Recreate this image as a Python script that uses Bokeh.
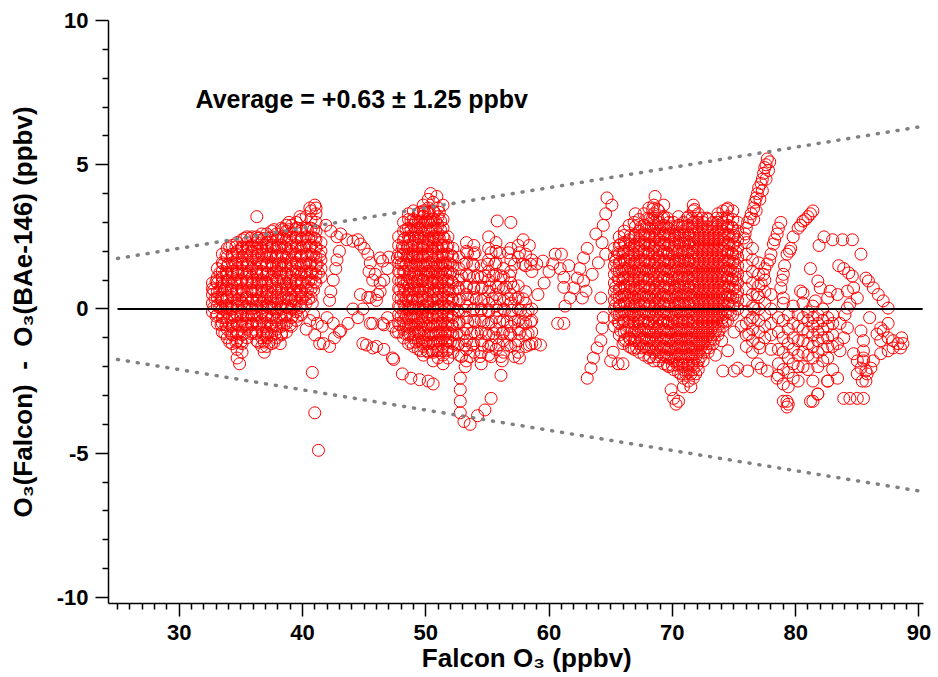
from bokeh.plotting import figure
from bokeh.models import FixedTicker, Label, Range1d, ColumnDataSource
from bokeh.embed import file_html
from bokeh.resources import INLINE

# ---------------- data ----------------
# dense cluster near 33-42 ppbv: column positions and the differences found in each column
a_cols = [32.7, 33.1, 33.5, 33.9, 34.3, 34.7, 35.1, 35.5, 35.9, 36.3, 36.7, 37.1,
          37.5, 37.9, 38.3, 38.7, 39.1, 39.5, 39.9, 40.3, 40.7, 41.1, 41.5]
a_vals = [
    [-0.1, 0.2, 0.5, 0.7, 0.9],
    [-0.5, -0.2, 0.1, 0.4, 0.6, 0.9, 1.1, 1.4],
    [-0.8, -0.5, -0.3, 0.0, 0.3, 0.5, 0.8, 1.1, 1.3, 1.6, 1.9],
    [-1.0, -0.7, -0.4, -0.1, 0.1, 0.4, 0.7, 1.0, 1.2, 1.5, 1.8, 2.1],
    [-1.2, -0.9, -0.6, -0.3, 0.0, 0.2, 0.5, 0.8, 1.1, 1.3, 1.6, 1.9, 2.2],
    [-1.7, -1.4, -1.1, -0.8, -0.5, -0.2, 0.1, 0.3, 0.6, 0.9, 1.2, 1.4, 1.7, 2.0, 2.3],
    [-1.5, -1.2, -0.9, -0.6, -0.4, -0.1, 0.2, 0.5, 0.7, 1.0, 1.3, 1.6, 1.8, 2.1, 2.4],
    [-1.0, -0.7, -0.5, -0.2, 0.1, 0.4, 0.6, 0.9, 1.2, 1.5, 1.7, 2.0, 2.3, 2.5],
    [-0.8, -0.5, -0.2, 0.0, 0.3, 0.6, 0.9, 1.1, 1.4, 1.7, 2.0, 2.2, 2.5],
    [-1.1, -0.8, -0.5, -0.2, 0.1, 0.3, 0.6, 0.9, 1.2, 1.4, 1.7, 2.0, 2.3, 2.5, 3.2],
    [-1.3, -1.0, -0.7, -0.4, -0.1, 0.2, 0.5, 0.8, 1.0, 1.3, 1.6, 1.9, 2.1, 2.4, 2.6],
    [-1.3, -1.0, -0.8, -0.5, -0.2, 0.1, 0.4, 0.6, 0.9, 1.2, 1.5, 1.8, 2.0, 2.3, 2.6],
    [-1.2, -0.9, -0.6, -0.3, 0.0, 0.2, 0.5, 0.8, 1.1, 1.4, 1.6, 1.9, 2.2, 2.5, 2.7],
    [-1.0, -0.7, -0.4, -0.1, 0.2, 0.4, 0.7, 1.0, 1.3, 1.5, 1.8, 2.1, 2.4, 2.6],
    [-0.9, -0.6, -0.3, 0.0, 0.2, 0.5, 0.8, 1.1, 1.4, 1.6, 1.9, 2.2, 2.5, 2.8],
    [-0.8, -0.5, -0.2, 0.1, 0.4, 0.7, 0.9, 1.2, 1.5, 1.8, 2.1, 2.4, 2.7, 2.9],
    [-0.6, -0.3, 0.0, 0.3, 0.5, 0.8, 1.1, 1.4, 1.7, 2.0, 2.3, 2.6, 2.9],
    [-0.4, -0.1, 0.2, 0.5, 0.8, 1.0, 1.3, 1.6, 1.9, 2.2, 2.5, 2.8, 3.0],
    [-0.2, 0.1, 0.4, 0.6, 0.9, 1.2, 1.5, 1.8, 2.1, 2.4, 2.7, 3.1],
    [0.2, 0.5, 0.8, 1.1, 1.3, 1.6, 1.9, 2.2, 2.5, 2.8, 3.2],
    [0.4, 0.7, 1.0, 1.3, 1.6, 1.9, 2.2, 2.5, 2.8, 3.1, 3.4],
    [0.9, 1.2, 1.5, 1.8, 2.1, 2.4, 2.7, 3.0, 3.3, 3.5],
    [1.1, 1.4, 1.7, 2.0, 2.3],
]
# the same cluster read along rows: row levels and the Falcon values found along each row
a_rows = [-1.15, -0.85, -0.55, -0.25, 0.05, 0.35, 0.65, 0.95, 1.25, 1.55, 1.85, 2.15, 2.45, 2.75]
a_rvals = [
    [34.1, 34.6, 35.0, 36.4, 36.9, 37.3, 37.7],
    [33.7, 34.2, 34.8, 35.3, 35.8, 36.2, 36.8, 37.2, 37.8, 38.3],
    [33.4, 33.8, 34.4, 34.9, 35.4, 35.9, 36.5, 36.9, 37.4, 37.9, 38.5, 39.0],
    [33.0, 33.6, 34.1, 34.5, 35.0, 35.6, 36.1, 36.6, 37.0, 37.6, 38.1, 38.6, 39.2, 39.6],
    [32.8, 33.3, 33.8, 34.2, 34.8, 35.3, 35.7, 36.2, 36.8, 37.3, 37.7, 38.2, 38.8, 39.3, 39.8],
    [32.9, 33.4, 33.9, 34.5, 34.9, 35.4, 36.0, 36.5, 36.9, 37.4, 38.0, 38.5, 38.9, 39.4, 40.0, 40.5],
    [32.8, 33.3, 33.7, 34.2, 34.7, 35.2, 35.8, 36.2, 36.7, 37.2, 37.8, 38.3, 38.8, 39.3, 39.8, 40.4, 40.9],
    [33.0, 33.5, 34.0, 34.5, 35.0, 35.5, 36.0, 36.5, 37.0, 37.5, 38.0, 38.5, 39.0, 39.5, 40.0, 40.5, 41.0],
    [33.3, 33.8, 34.3, 34.8, 35.3, 35.7, 36.3, 36.8, 37.2, 37.7, 38.2, 38.7, 39.2, 39.7, 40.2, 40.8, 41.3],
    [33.6, 34.0, 34.6, 35.1, 35.6, 36.1, 36.6, 37.1, 37.6, 38.1, 38.6, 39.1, 39.6, 40.1, 40.6, 41.2],
    [33.8, 34.3, 34.8, 35.3, 35.8, 36.4, 36.9, 37.4, 37.9, 38.4, 38.9, 39.4, 39.9, 40.4, 40.9, 41.4],
    [34.1, 34.6, 35.1, 35.6, 36.1, 36.6, 37.1, 37.6, 38.1, 38.6, 39.1, 39.6, 40.1, 40.6, 41.1],
    [35.3, 35.8, 36.4, 36.9, 37.4, 38.0, 38.5, 39.0, 39.5, 40.0, 40.5, 41.0],
    [37.7, 38.4, 38.9, 39.4, 39.9, 40.4, 40.9],
]
a_extra = [(40.8, 0.2), (40.9, -0.2), (41.2, -0.5), (41.0, -0.9), (41.4, -1.2), (40.6, -0.4),
           (40.3, -0.7), (34.9, -1.9), (40.8, -2.2), (41.0, -3.6), (41.3, -4.9), (38.9, 3.0),
           (39.8, 3.2), (40.6, 3.5), (41.0, 3.6), (36.9, -1.5), (38.2, -1.2)]

# loops between the first and second clusters
loop_pts = [(41.9, 2.9), (42.3, 2.7), (42.8, 2.5), (43.1, 2.6), (43.6, 2.4), (44.1, 2.35), (44.5, 2.4),
            (44.7, 2.25), (45.0, 2.1), (45.3, 1.9), (45.5, 1.6), (45.4, 1.3), (45.9, 1.2), (45.7, 1.0),
            (46.3, 0.9), (46.1, 0.5), (45.5, 0.4), (45.3, 0.4), (44.7, 0.5), (44.9, 0.0), (44.1, 0.0),
            (44.5, -0.3), (43.7, -0.5), (43.1, -0.75), (42.5, -0.5), (42.0, -0.3), (41.6, -0.6),
            (41.7, -1.2), (42.2, -1.3), (42.6, -1.0), (43.0, -0.8), (43.0, 2.0), (42.8, 1.7),
            (42.7, 1.4), (42.5, 1.0), (42.3, 0.6), (42.2, 0.3), (44.9, -1.2), (45.2, -1.25),
            (45.7, -1.35), (46.0, -1.3), (46.6, -1.4), (47.3, -1.7), (47.4, -1.75), (45.5, -0.5),
            (45.7, -0.5), (46.5, -0.5), (46.6, -0.55), (46.9, -0.3), (47.3, -0.6), (47.6, -0.8),
            (46.3, 1.77), (46.5, 1.66), (46.9, 1.4), (47.0, 1.8), (47.7, 1.77), (46.6, 1.0),
            (46.3, 0.6), (46.0, 0.3)]

# dense cluster near 48-52 ppbv
b_cols = [47.8, 48.2, 48.6, 49.0, 49.4, 49.8, 50.2, 50.6, 51.0, 51.4, 51.8, 52.2]
b_vals = [
    [-0.8, -0.5, -0.2, 0.1, 0.4, 0.7, 1.0, 1.3, 1.6, 1.9, 2.2, 2.5],
    [-1.0, -0.7, -0.4, -0.1, 0.2, 0.5, 0.8, 1.0, 1.3, 1.6, 1.9, 2.1, 2.4, 2.7, 3.0],
    [-1.2, -0.9, -0.6, -0.3, 0.0, 0.3, 0.5, 0.8, 1.1, 1.4, 1.7, 1.9, 2.2, 2.5, 2.8, 3.1, 3.3],
    [-1.3, -1.0, -0.7, -0.4, -0.2, 0.1, 0.4, 0.7, 0.9, 1.2, 1.5, 1.8, 2.0, 2.3, 2.6, 2.9, 3.1, 3.4],
    [-1.4, -1.1, -0.8, -0.5, -0.3, 0.0, 0.3, 0.6, 0.8, 1.1, 1.4, 1.7, 1.9, 2.2, 2.5, 2.8, 3.0, 3.3],
    [-1.6, -1.3, -1.0, -0.7, -0.4, -0.1, 0.1, 0.4, 0.7, 1.0, 1.2, 1.5, 1.8, 2.1, 2.3, 2.6, 2.9, 3.2, 3.4, 3.6],
    [-1.5, -1.2, -0.9, -0.6, -0.3, -0.1, 0.2, 0.5, 0.8, 1.1, 1.3, 1.6, 1.9, 2.2, 2.4, 2.7, 3.0, 3.3, 3.5, 3.8],
    [-1.8, -1.5, -1.2, -0.9, -0.6, -0.3, 0.0, 0.3, 0.6, 0.9, 1.1, 1.4, 1.7, 2.0, 2.3, 2.5, 2.8, 3.1, 3.4, 3.7],
    [-1.7, -1.4, -1.1, -0.8, -0.5, -0.2, 0.1, 0.4, 0.7, 0.9, 1.2, 1.5, 1.8, 2.1, 2.4, 2.6, 2.9, 3.2, 3.5],
    [-1.9, -1.6, -1.3, -1.0, -0.7, -0.4, -0.1, 0.2, 0.5, 0.8, 1.1, 1.4, 1.6, 1.9, 2.2, 2.5, 2.8, 3.1],
    [-1.7, -1.4, -1.1, -0.8, -0.5, -0.2, 0.1, 0.4, 0.7, 1.0, 1.3, 1.6, 1.9, 2.2, 2.5],
    [-1.5, -1.2, -0.9, -0.6, -0.3, 0.0, 0.3, 0.6, 0.9, 1.2, 1.5, 1.8, 2.1],
]
b_rows = [-1.45, -1.15, -0.85, -0.55, -0.25, 0.05, 0.35, 0.65, 0.95, 1.25, 1.55, 1.85, 2.15, 2.45, 2.75, 3.05, 3.35]
b_rvals = [
    [49.6, 50.1, 50.5, 50.9, 51.3, 51.7],
    [48.8, 49.2, 49.7, 50.0, 50.4, 50.8, 51.2, 51.6, 52.0],
    [48.3, 48.7, 49.1, 49.5, 49.9, 50.4, 50.8, 51.2, 51.6, 52.0],
    [47.9, 48.4, 48.8, 49.2, 49.6, 50.0, 50.4, 50.8, 51.2, 51.6, 52.1],
    [48.0, 48.4, 48.8, 49.2, 49.7, 50.1, 50.5, 50.9, 51.3, 51.7, 52.1],
    [47.9, 48.3, 48.7, 49.1, 49.5, 49.9, 50.3, 50.7, 51.1, 51.5, 51.9],
    [48.0, 48.4, 48.9, 49.3, 49.7, 50.1, 50.5, 50.9, 51.3, 51.7, 52.1],
    [47.9, 48.3, 48.7, 49.1, 49.5, 49.9, 50.3, 50.7, 51.1, 51.5, 51.9],
    [48.0, 48.5, 48.9, 49.3, 49.7, 50.1, 50.5, 50.9, 51.3, 51.7, 52.1],
    [47.9, 48.3, 48.7, 49.1, 49.6, 50.0, 50.4, 50.8, 51.2, 51.6, 52.0],
    [48.0, 48.4, 48.8, 49.2, 49.6, 50.0, 50.4, 50.8, 51.2, 51.6, 52.0],
    [48.0, 48.5, 48.9, 49.3, 49.7, 50.1, 50.5, 50.9, 51.3, 51.7, 52.1],
    [48.1, 48.5, 48.9, 49.3, 49.7, 50.1, 50.5, 50.9, 51.3, 51.7],
    [48.3, 48.7, 49.1, 49.5, 49.9, 50.3, 50.7, 51.1, 51.5],
    [48.4, 48.8, 49.2, 49.6, 50.0, 50.4, 50.8, 51.2],
    [48.8, 49.2, 49.6, 50.0, 50.4, 50.8, 51.2],
    [49.5, 49.9, 50.3, 50.7, 51.1],
]
b2_cols = [52.7, 53.3, 53.9, 54.5, 55.1, 55.7, 56.3, 56.9, 57.5, 58.1, 58.6]
b2_vals = [
    [-1.6, -1.2, -0.9, -0.5, -0.1, 0.3, 0.7, 1.0, 1.4, 1.8],
    [-1.8, -1.4, -1.1, -0.7, -0.3, 0.1, 0.5, 0.8, 1.2, 1.6, 2.0, 2.3],
    [-1.5, -1.2, -0.8, -0.4, 0.0, 0.4, 0.7, 1.1, 1.5, 1.9, 2.2],
    [-1.9, -1.5, -1.1, -0.8, -0.4, 0.0, 0.3, 0.7, 1.1, 1.5],
    [-1.6, -1.3, -0.9, -0.5, -0.1, 0.2, 0.6, 1.0, 1.3, 1.7, 2.1, 2.5],
    [-1.4, -1.0, -0.7, -0.3, 0.1, 0.5, 0.8, 1.2, 1.6, 2.0, 2.3],
    [-1.5, -1.1, -0.8, -0.4, 0.0, 0.3, 0.7, 1.1, 1.4],
    [-1.3, -0.9, -0.6, -0.2, 0.2, 0.5, 0.9, 1.3, 1.7, 2.1],
    [-1.5, -1.1, -0.7, -0.4, 0.0, 0.4, 0.8, 1.8, 2.2],
    [-1.3, -0.9, -0.5, -0.2, 0.2, 0.6, 1.5, 1.9],
    [-1.2, -0.8, -0.4, 0.0, 1.3, 1.7],
]
b2_rows = [-1.65, -1.25, -0.85, -0.45, -0.05, 0.35, 0.75, 1.15, 1.55, 1.95]
b2_rvals = [
    [52.9, 53.6, 54.4, 55.3, 56.1, 57.2],
    [52.6, 53.2, 53.8, 54.6, 55.3, 55.9, 56.6, 57.3, 58.4],
    [52.5, 53.1, 53.7, 54.2, 54.9, 55.5, 56.2, 56.8, 57.6, 58.3],
    [52.7, 53.4, 54.0, 54.7, 55.3, 56.0, 56.6, 57.2, 57.9, 58.5],
    [52.6, 53.2, 53.8, 54.5, 55.1, 55.8, 56.4, 57.0, 57.7, 58.3],
    [52.8, 53.4, 54.1, 54.7, 55.4, 56.0, 56.7, 57.3, 57.9],
    [52.6, 53.3, 53.9, 54.6, 55.2, 55.9, 56.5, 57.1],
    [52.9, 53.5, 54.2, 54.8, 55.5, 56.1, 56.8],
    [53.1, 53.8, 55.0, 55.6, 57.2, 57.9, 58.5],
    [53.4, 54.0, 55.3, 56.0, 56.7, 57.6],
]
b_extra = [(48.1, -2.25), (48.8, -2.4), (49.5, -2.45), (50.2, -2.5), (50.6, -2.6), (52.8, -2.4),
           (52.8, -2.8), (52.8, -3.2), (52.8, -3.6), (53.6, -4.0), (53.1, -3.9), (54.2, -3.7),
           (54.8, -3.5), (55.3, -3.1), (56.1, -2.3), (55.8, 3.05), (56.9, 3.0), (50.4, 4.0),
           (50.9, 3.9), (51.4, 3.6), (59.0, 1.56), (59.5, 1.66), (60.3, 1.56), (60.9, 1.4),
           (61.2, 0.75), (61.3, 0.1), (60.7, -0.5), (58.9, -1.2), (59.3, -1.25), (57.6, -1.7),
           (56.2, -1.8), (53.2, -2.0), (57.9, 2.4), (58.4, 2.2), (59.1, 0.5), (59.6, 0.9),
           (60.0, 1.3), (60.5, 1.9), (61.0, 1.9)]

# dense cluster near 65-76 ppbv
c_cols = [65.3, 65.7, 66.1, 66.5, 66.9, 67.3, 67.7, 68.1, 68.5, 68.9, 69.3, 69.7, 70.1,
          70.5, 70.9, 71.3, 71.7, 72.1, 72.5, 72.9, 73.3, 73.7, 74.1, 74.5, 74.9, 75.3]
c_vals = [
    [-0.6, -0.3, 0.0, 0.3, 0.6, 0.9, 1.2, 1.5, 1.8, 2.1],
    [-0.9, -0.5, -0.2, 0.1, 0.4, 0.7, 1.0, 1.3, 1.6, 1.9, 2.2, 2.5],
    [-1.1, -0.8, -0.4, -0.1, 0.2, 0.5, 0.8, 1.1, 1.4, 1.7, 2.0, 2.3, 2.7],
    [-1.3, -1.0, -0.6, -0.3, 0.0, 0.3, 0.6, 0.9, 1.2, 1.5, 1.8, 2.1, 2.4, 2.9],
    [-1.4, -1.1, -0.8, -0.5, -0.2, 0.1, 0.4, 0.7, 1.0, 1.3, 1.6, 1.9, 2.2, 2.5, 3.0],
    [-1.5, -1.2, -0.9, -0.6, -0.3, 0.0, 0.3, 0.6, 0.9, 1.2, 1.5, 1.8, 2.1, 2.4, 2.7, 3.1],
    [-1.6, -1.3, -1.0, -0.7, -0.4, -0.1, 0.2, 0.5, 0.8, 1.1, 1.4, 1.7, 2.0, 2.3, 2.6, 2.9, 3.3],
    [-1.7, -1.4, -1.1, -0.8, -0.5, -0.2, 0.1, 0.4, 0.7, 1.0, 1.3, 1.6, 1.9, 2.2, 2.5, 2.8, 3.1, 3.5],
    [-1.8, -1.5, -1.2, -0.9, -0.6, -0.3, 0.0, 0.3, 0.6, 0.9, 1.2, 1.5, 1.8, 2.1, 2.4, 2.7, 3.0, 3.3, 3.6],
    [-1.8, -1.5, -1.2, -0.9, -0.6, -0.3, 0.0, 0.3, 0.6, 0.9, 1.2, 1.5, 1.8, 2.1, 2.4, 2.7, 3.0, 3.4],
    [-1.9, -1.6, -1.3, -1.0, -0.7, -0.4, -0.1, 0.2, 0.5, 0.8, 1.1, 1.4, 1.7, 2.0, 2.3, 2.6, 2.9, 3.2],
    [-2.0, -1.7, -1.4, -1.1, -0.8, -0.5, -0.2, 0.1, 0.4, 0.7, 1.0, 1.3, 1.6, 1.9, 2.2, 2.5, 2.8, 3.0],
    [-2.1, -1.8, -1.5, -1.2, -0.9, -0.6, -0.3, 0.0, 0.3, 0.6, 0.9, 1.2, 1.5, 1.8, 2.1, 2.4, 2.7, 3.0],
    [-2.2, -1.9, -1.6, -1.3, -1.0, -0.7, -0.4, -0.1, 0.2, 0.5, 0.8, 1.1, 1.4, 1.7, 2.0, 2.3, 2.6, 2.9, 3.2],
    [-2.4, -2.1, -1.8, -1.5, -1.2, -0.9, -0.6, -0.3, 0.0, 0.3, 0.6, 0.9, 1.2, 1.5, 1.8, 2.1, 2.4, 2.7, 3.0],
    [-2.5, -2.2, -1.9, -1.6, -1.3, -1.0, -0.7, -0.4, -0.1, 0.2, 0.5, 0.8, 1.1, 1.4, 1.7, 2.0, 2.3, 2.6, 2.9, 3.2],
    [-2.4, -2.1, -1.8, -1.5, -1.2, -0.9, -0.6, -0.3, 0.0, 0.3, 0.6, 0.9, 1.2, 1.5, 1.8, 2.1, 2.4, 2.7, 3.0, 3.4],
    [-2.1, -1.8, -1.5, -1.2, -0.9, -0.6, -0.3, 0.0, 0.3, 0.6, 0.9, 1.2, 1.5, 1.8, 2.1, 2.4, 2.7, 3.0, 3.3],
    [-1.8, -1.5, -1.2, -0.9, -0.6, -0.3, 0.0, 0.3, 0.6, 0.9, 1.2, 1.5, 1.8, 2.1, 2.4, 2.7, 3.0],
    [-1.5, -1.2, -0.9, -0.6, -0.3, 0.0, 0.3, 0.6, 0.9, 1.2, 1.5, 1.8, 2.1, 2.4, 2.7, 3.1],
    [-1.2, -0.9, -0.6, -0.3, 0.0, 0.3, 0.6, 0.9, 1.2, 1.5, 1.8, 2.1, 2.4, 2.7, 3.0],
    [-0.9, -0.6, -0.3, 0.0, 0.3, 0.6, 0.9, 1.2, 1.5, 1.8, 2.1, 2.4, 2.7, 3.0, 3.3],
    [-0.6, -0.3, 0.0, 0.3, 0.6, 0.9, 1.2, 1.5, 1.8, 2.1, 2.4, 2.7, 3.0, 3.4],
    [-0.4, -0.1, 0.2, 0.5, 0.8, 1.1, 1.4, 1.7, 2.0, 2.3, 2.6, 2.9, 3.2, 3.5],
    [-0.2, 0.1, 0.4, 0.7, 1.0, 1.3, 1.6, 1.9, 2.2, 2.5, 2.8, 3.1, 3.4],
    [0.0, 0.3, 0.6, 0.9, 1.2, 1.5, 1.8, 2.1, 2.4, 2.7, 3.0],
]
c_rows = [-2.25, -1.95, -1.65, -1.35, -1.05, -0.75, -0.45, -0.15, 0.15, 0.45, 0.75, 1.05,
          1.35, 1.65, 1.95, 2.25, 2.55, 2.85, 3.15, 3.45]
c_rvals = [
    [70.7, 71.1, 71.5, 71.9],
    [69.6, 70.0, 70.4, 70.8, 71.2, 71.6, 72.0],
    [68.2, 68.7, 69.1, 69.5, 69.9, 70.3, 70.7, 71.1, 71.5, 71.9, 72.3],
    [66.7, 67.1, 67.5, 67.9, 68.3, 68.7, 69.1, 69.5, 69.9, 70.3, 70.7, 71.1, 71.5, 71.9, 72.3, 72.7, 73.0],
    [66.2, 66.6, 67.0, 67.5, 67.9, 68.3, 68.7, 69.1, 69.5, 69.9, 70.3, 70.7, 71.1, 71.5, 71.9, 72.3, 72.7, 73.1, 73.4],
    [65.8, 66.3, 66.7, 67.1, 67.5, 67.9, 68.3, 68.7, 69.1, 69.5, 69.9, 70.3, 70.7, 71.1, 71.5, 71.9, 72.3, 72.7, 73.1, 73.5, 73.8],
    [65.6, 66.0, 66.4, 66.8, 67.2, 67.6, 68.0, 68.4, 68.8, 69.2, 69.6, 70.0, 70.4, 70.8, 71.2, 71.6, 72.0, 72.4, 72.8, 73.2, 73.6, 74.0, 74.3],
    [65.5, 65.9, 66.3, 66.7, 67.1, 67.5, 67.9, 68.3, 68.7, 69.1, 69.5, 69.9, 70.3, 70.7, 71.1, 71.5, 71.9, 72.3, 72.7, 73.1, 73.5, 73.9, 74.3, 74.7],
    [65.4, 65.8, 66.2, 66.6, 67.0, 67.4, 67.8, 68.2, 68.6, 69.0, 69.4, 69.8, 70.2, 70.6, 71.0, 71.4, 71.8, 72.2, 72.6, 73.0, 73.4, 73.8, 74.2, 74.6, 75.0],
    [65.5, 65.9, 66.3, 66.7, 67.1, 67.5, 67.9, 68.3, 68.7, 69.1, 69.5, 69.9, 70.3, 70.7, 71.1, 71.5, 71.9, 72.3, 72.7, 73.1, 73.5, 73.9, 74.3, 74.7, 75.2],
    [65.4, 65.8, 66.2, 66.6, 67.0, 67.4, 67.8, 68.2, 68.6, 69.0, 69.4, 69.8, 70.2, 70.6, 71.0, 71.4, 71.8, 72.2, 72.6, 73.0, 73.4, 73.8, 74.2, 74.6, 75.1],
    [65.6, 66.0, 66.4, 66.8, 67.2, 67.6, 68.0, 68.4, 68.8, 69.2, 69.6, 70.0, 70.4, 70.8, 71.2, 71.6, 72.0, 72.4, 72.8, 73.2, 73.6, 74.0, 74.4, 74.8, 75.2],
    [65.5, 65.9, 66.3, 66.7, 67.1, 67.5, 67.9, 68.3, 68.7, 69.1, 69.5, 69.9, 70.3, 70.7, 71.1, 71.5, 71.9, 72.3, 72.7, 73.1, 73.5, 73.9, 74.3, 74.7, 75.1],
    [65.4, 65.8, 66.2, 66.6, 67.0, 67.4, 67.8, 68.2, 68.6, 69.0, 69.4, 69.8, 70.2, 70.6, 71.0, 71.4, 71.8, 72.2, 72.6, 73.0, 73.4, 73.8, 74.2, 74.6, 75.0],
    [65.6, 66.0, 66.4, 66.8, 67.2, 67.6, 68.0, 68.4, 68.8, 69.2, 69.6, 70.0, 70.4, 70.8, 71.2, 71.6, 72.0, 72.4, 72.8, 73.2, 73.6, 74.0, 74.4, 74.8, 75.2],
    [65.8, 66.2, 66.6, 67.0, 67.4, 67.8, 68.2, 68.6, 69.0, 69.4, 69.8, 70.2, 70.6, 71.0, 71.4, 71.8, 72.2, 72.6, 73.0, 73.4, 73.8, 74.2, 74.6, 75.0],
    [66.1, 66.6, 67.0, 67.4, 67.8, 68.2, 68.6, 69.0, 69.4, 69.8, 70.2, 70.6, 71.0, 71.4, 71.8, 72.2, 72.6, 73.0, 73.4, 73.8, 74.2, 74.6, 75.0],
    [67.0, 67.5, 67.9, 68.3, 68.7, 69.1, 69.5, 69.9, 70.4, 70.8, 71.2, 71.6, 72.0, 72.4, 72.8, 73.2, 73.6, 74.0, 74.4, 74.8],
    [68.0, 68.4, 68.8, 69.2, 69.6, 71.2, 71.6, 72.0, 72.4, 72.8, 73.6, 74.0, 74.4],
    [68.4, 68.8, 71.8, 74.4],
]
c2_cols = [76.0, 76.5, 77.0, 77.5, 78.0]
c2_vals = [
    [-1.3, -0.9, -0.5, -0.1, 0.3, 0.7, 1.1, 1.5, 1.9, 2.3],
    [-1.5, -1.1, -0.7, -0.3, 0.1, 0.5, 0.9, 1.3, 1.7, 2.1],
    [-1.2, -0.8, -0.4, 0.0, 0.4, 0.8, 1.2, 1.6],
    [-1.0, -0.6, -0.2, 0.2, 0.6, 1.0],
    [-1.4, -0.9, -0.5, 0.0, 0.5],
]
c_extra = [(64.7, 3.85), (65.1, 3.6), (64.6, 3.3), (64.4, 2.9), (63.8, 2.6), (64.3, 2.3), (63.1, 2.1),
           (62.8, 1.77), (62.5, 1.4), (62.3, 1.07), (62.0, 0.73), (61.7, 0.38), (62.8, 0.97),
           (63.0, 0.62), (62.7, 0.38), (64.2, 0.38), (63.5, 1.2), (64.0, 1.6), (64.6, 1.9),
           (61.2, 1.1), (61.6, 1.5), (63.1, -2.4), (63.4, -2.05), (63.6, -1.7), (63.9, -1.35),
           (64.2, -1.1), (65.0, -1.8), (65.2, -1.5), (66.0, -1.2), (66.0, -1.9), (64.3, -0.66),
           (64.4, -0.3), (61.2, -0.5), (65.6, -1.9), (69.3, 3.6), (71.7, 3.6), (67.0, 3.3),
           (68.6, 3.9), (69.9, -2.8), (70.1, -3.1), (70.3, -3.3), (70.5, -3.2), (70.9, -2.7),
           (71.5, -2.7), (74.5, -1.45), (75.3, -2.05), (76.1, -2.15), (76.9, -1.9), (77.7, -2.15),
           (78.5, -2.4), (77.1, -1.35), (74.1, -2.15), (75.0, -2.15), (77.2, -2.05), (73.5, -1.6),
           (74.0, -1.1), (75.6, -0.6), (75.0, -0.8)]
spike_pts = [(77.7, 5.2), (77.6, 5.0), (77.5, 4.9), (77.4, 4.7), (77.3, 4.5), (77.2, 4.35), (77.0, 4.2),
             (76.9, 4.0), (76.8, 3.85), (76.7, 3.7), (76.6, 3.5), (76.4, 3.3), (76.3, 3.15), (76.1, 3.0),
             (76.0, 2.8), (75.9, 2.6), (75.8, 2.46), (77.9, 5.1), (77.8, 4.8), (77.6, 4.5), (77.3, 4.1),
             (77.1, 3.8), (76.8, 3.4), (76.6, 3.1), (78.8, 3.0), (78.5, 2.6), (78.2, 2.25), (78.0, 1.9),
             (77.7, 1.56), (77.4, 1.2), (77.2, 0.87), (76.9, 0.5), (76.6, 0.03), (76.3, -0.4),
             (76.2, -0.87), (78.6, 2.8), (78.3, 2.4), (77.9, 1.7), (77.5, 1.4), (81.4, 3.4),
             (81.2, 3.3), (81.0, 3.2), (80.8, 3.1), (80.6, 3.05), (80.4, 2.9), (80.2, 2.8), (79.8, 2.5),
             (79.6, 2.1), (79.5, 2.0), (79.3, 1.9), (79.1, 1.5), (79.0, 1.2), (78.9, 1.0), (78.8, 0.73)]

# sparse cluster near 78-89 ppbv
d_cols = [78.6, 79.0, 79.4, 79.8, 80.2, 80.6, 81.0, 81.4, 81.8, 82.2, 82.6, 83.0]
d_vals = [
    [-0.3, -0.8, -1.4, -1.9, -2.3],
    [0.2, -0.4, -1.0, -1.5, -2.1, -2.6, -3.2],
    [-0.2, -0.7, -1.2, -1.7, -2.2, -2.7, -3.3],
    [0.1, -0.5, -1.0, -1.4, -1.9, -2.4],
    [-0.2, -0.6, -1.1, -1.6, -2.0, -2.5],
    [0.2, -0.3, -0.7, -1.1, -1.5, -2.0],
    [-0.1, -0.4, -0.8, -1.2, -1.6, -2.1],
    [0.1, -0.3, -0.6, -0.9, -1.3, -1.7, -3.2],
    [-0.2, -0.5, -0.8, -1.1, -1.5, -2.0, -2.95],
    [0.0, -0.4, -0.7, -1.0, -1.4, -1.8],
    [-0.3, -0.6, -1.0, -1.3, -1.7, -2.5],
    [-0.2, -0.5, -0.9, -1.3, -2.1],
]
d_extra = [(82.3, 2.5), (83.0, 2.4), (83.8, 2.4), (84.6, 2.4), (85.3, 1.9), (81.9, 2.2), (81.2, 1.4),
           (83.5, 1.5), (83.9, 1.4), (84.3, 1.25), (84.6, 1.14), (85.7, 1.07), (85.9, 0.97),
           (86.3, 0.73), (86.7, 0.5), (87.1, 0.28), (87.5, 0.03), (81.8, 0.97), (82.0, 0.73),
           (82.8, 0.62), (82.6, 0.38), (81.6, 0.28), (80.4, 0.62), (79.0, 0.38), (83.4, 0.5),
           (84.2, 0.62), (84.7, 0.73), (85.0, 0.38), (84.4, 0.17), (84.2, 0.03), (80.6, 0.55),
           (79.3, -3.4), (79.3, -3.2), (81.2, -3.2), (81.8, -2.95), (83.9, -3.1), (84.4, -3.1),
           (85.0, -3.1), (85.5, -3.1), (81.4, -2.5), (82.6, -2.5), (83.4, -2.4), (85.3, -0.76),
           (85.5, -1.1), (85.5, -1.45), (85.5, -1.8), (85.7, -2.15), (85.7, -2.5), (86.9, -1.1),
           (87.5, -1.0), (87.9, -1.1), (88.3, -1.2), (87.9, -1.35), (87.5, -1.45), (86.9, -1.55),
           (86.3, -1.8), (86.1, -2.05), (85.8, -2.25), (86.9, -0.66), (87.5, -0.5), (87.1, -0.76),
           (86.6, -0.87), (83.6, -0.5), (84.2, -0.66), (83.9, -1.0), (83.4, -1.2), (83.6, -1.45),
           (84.7, -1.55), (85.0, -1.8), (85.5, -1.7), (85.3, -2.05), (85.0, -2.25), (85.4, -2.5),
           (88.7, -1.2), (88.5, -1.35), (88.6, -1.0), (84.0, -0.2), (86.0, -0.3)]

# reference lines
line_x = [25.0, 90.3]
zero_y = [0.0, 0.0]
upper_y = [1.75, 6.33]
lower_y = [-1.75, -6.33]

x_major = [30, 40, 50, 60, 70, 80, 90]
x_minor = [v for v in range(25, 91) if v not in x_major]
y_major = [-10, -5, 0, 5, 10]
y_minor = [v for v in range(-10, 11) if v not in y_major]

title_text = "Average = +0.63 \u00b1 1.25 ppbv"
# leading no-break spaces nudge the centred x title slightly right, as in the original
x_title = "\u00a0\u00a0\u00a0Falcon O\u2083 (ppbv)"
y_title = "O\u2083(Falcon)\u00a0\u00a0-\u00a0\u00a0O\u2083(BAe-146) (ppbv)"

# ---------------- build point table ----------------
xs, ys = [], []
for cols, vals in ((a_cols, a_vals), (b_cols, b_vals), (b2_cols, b2_vals),
                   (c_cols, c_vals), (c2_cols, c2_vals), (d_cols, d_vals)):
    for c, col in zip(cols, vals):
        xs.extend([c] * len(col))
        ys.extend(col)
for rows, vals in ((a_rows, a_rvals), (b_rows, b_rvals), (b2_rows, b2_rvals), (c_rows, c_rvals)):
    for r, row in zip(rows, vals):
        xs.extend(row)
        ys.extend([r] * len(row))
for pts in (a_extra, loop_pts, b_extra, c_extra, spike_pts, d_extra):
    for px, py in pts:
        xs.append(px)
        ys.append(py)
src = ColumnDataSource(dict(x=xs, y=ys))

FONT = "Liberation Sans"

p = figure(width=938, height=677, output_backend="svg", toolbar_location=None,
           x_range=Range1d(24.27, 90.37), y_range=Range1d(-10.21, 10.0),
           min_border_left=108, min_border_right=15, min_border_top=20, min_border_bottom=74)
p.outline_line_color = None
p.xgrid.visible = False
p.ygrid.visible = False

p.scatter("x", "y", source=src, marker="circle", size=12, fill_color=None,
          line_color="#ff0000", line_width=1)

p.line(line_x, zero_y, line_color="black", line_width=2)
p.line(line_x, upper_y, line_color="#808080", line_width=3.5, line_dash="1 9", line_cap="round")
p.line(line_x, lower_y, line_color="#808080", line_width=3.5, line_dash="1 9", line_cap="round")

p.xaxis.ticker = FixedTicker(ticks=x_major, minor_ticks=x_minor)
p.yaxis.ticker = FixedTicker(ticks=y_major, minor_ticks=y_minor)
p.yaxis.major_label_overrides = {v: str(v) for v in y_major}
p.xaxis.major_label_overrides = {v: str(v) for v in x_major}

for ax in (p.xaxis[0], p.yaxis[0]):
    ax.axis_line_width = 1.5
    ax.axis_line_color = "black"
    ax.major_tick_line_width = 1.5
    ax.minor_tick_line_width = 1.5
    ax.major_tick_line_color = "black"
    ax.minor_tick_line_color = "black"
    ax.major_tick_out = 13
    ax.major_tick_in = 0
    ax.minor_tick_out = 6
    ax.minor_tick_in = 0
    ax.major_label_text_font = FONT
    ax.major_label_text_font_style = "bold"
    ax.major_label_text_font_size = "22px"
    ax.major_label_text_color = "black"
    ax.axis_label_text_font = FONT
    ax.axis_label_text_font_style = "bold"
    ax.axis_label_text_font_size = "26px"
    ax.axis_label_text_color = "black"

p.xaxis.major_label_standoff = 8
p.xaxis.axis_label_standoff = 0
p.yaxis.major_label_standoff = 7
p.yaxis.axis_label_standoff = 16
p.xaxis.axis_label = x_title
p.yaxis.axis_label = y_title

p.add_layout(Label(x=31.33, y=7.28, text=title_text, text_font=FONT, text_font_style="bold",
                   text_font_size="25px", text_color="black", text_baseline="alphabetic"))

open("out.html", "w").write(file_html(p, INLINE))
